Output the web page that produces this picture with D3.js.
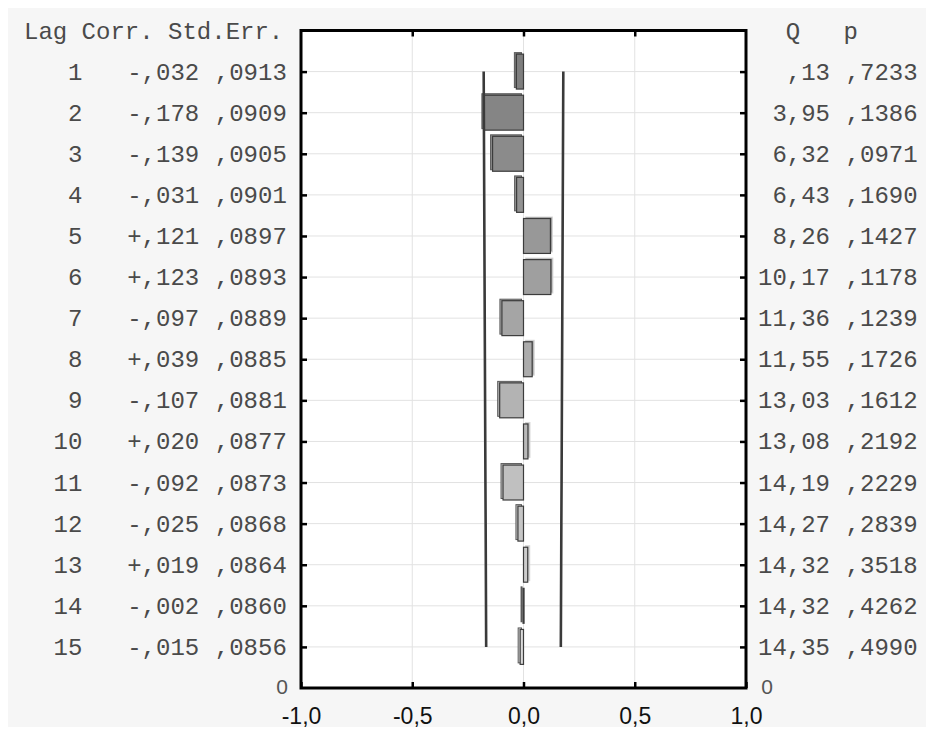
<!DOCTYPE html>
<html>
<head>
<meta charset="utf-8">
<script src="https://cdn.jsdelivr.net/npm/d3@7/dist/d3.min.js"></script>
<style>
  html, body { margin: 0; padding: 0; background: #ffffff; }
  svg { display: block; }
</style>
</head>
<body>
<svg id="chart" width="934" height="735"></svg>
<script>
// Autocorrelation function table and plot
const lags = [1, 2, 3, 4, 5, 6, 7, 8, 9, 10, 11, 12, 13, 14, 15];
const corr = [-0.032, -0.178, -0.139, -0.031, 0.121, 0.123, -0.097, 0.039,
              -0.107, 0.020, -0.092, -0.025, 0.019, -0.002, -0.015];
const stdErr = [0.0913, 0.0909, 0.0905, 0.0901, 0.0897, 0.0893, 0.0889, 0.0885,
                0.0881, 0.0877, 0.0873, 0.0868, 0.0864, 0.0860, 0.0856];
const qStat = [0.13, 3.95, 6.32, 6.43, 8.26, 10.17, 11.36, 11.55,
               13.03, 13.08, 14.19, 14.27, 14.32, 14.32, 14.35];
const pVal = [0.7233, 0.1386, 0.0971, 0.1690, 0.1427, 0.1178, 0.1239, 0.1726,
              0.1612, 0.2192, 0.2229, 0.2839, 0.3518, 0.4262, 0.4990];
const xTicks = [-1, -0.5, 0, 0.5, 1];
const xTickLabels = ["-1,0", "-0,5", "0,0", "0,5", "1,0"];
const yEndLabel = "0";
const leftHeader = "Lag Corr. Std.Err.";
const rightHeader = "  Q   p";

const svg = d3.select("#chart");
const W = 934, H = 735;

const x = d3.scaleLinear().domain([-1, 1]).range([301, 746]);
const y = d3.scaleLinear().domain([0, 16]).range([30.5, 688]);
const step = y(1) - y(0);
const barH = step * 0.85;

const mono = "'Liberation Mono', 'DejaVu Sans Mono', monospace";
const sans = "'Liberation Sans', Arial, sans-serif";
const cw = 14.6;

// Number formats in the decimal-comma style with leading zero dropped
const fmtNoLead = (v, d) => {
  const s = Math.abs(v).toFixed(d).replace(".", ",");
  return s.startsWith("0,") ? s.slice(1) : s;
};
const fmtCorr = v => (v < 0 ? "-" : "+") + fmtNoLead(v, 3);

// Panel background
svg.append("rect").attr("x", 0).attr("y", 0).attr("width", W).attr("height", H).attr("fill", "#ffffff");
svg.append("rect").attr("x", 8).attr("y", 8).attr("width", W - 16).attr("height", H - 16).attr("fill", "#f6f6f6");

// Plot area
svg.append("rect")
  .attr("x", x(-1)).attr("y", y(0))
  .attr("width", x(1) - x(-1)).attr("height", y(16) - y(0))
  .attr("fill", "#ffffff");

// Grid
const grid = svg.append("g").attr("stroke", "#e2e2e2").attr("stroke-width", 1);
grid.selectAll("line.h").data(lags).join("line")
  .attr("class", "h")
  .attr("x1", x(-1)).attr("x2", x(1))
  .attr("y1", d => y(d)).attr("y2", d => y(d));
grid.selectAll("line.v").data([-0.5, 0, 0.5]).join("line")
  .attr("class", "v")
  .attr("x1", d => x(d)).attr("x2", d => x(d))
  .attr("y1", y(0)).attr("y2", y(16));

// Bars with offset shadow
const shade = d3.scaleLinear().domain([1, 15]).range(["#7e7e7e", "#dadada"]);
const rows = lags.map((l, i) => ({ lag: l, r: corr[i], se: stdErr[i] }));
const bars = svg.append("g");
rows.forEach(d => {
  const x0 = Math.min(x(0), x(d.r));
  const w = Math.max(Math.abs(x(d.r) - x(0)), 1);
  const out = d.r < 0 ? -2 : 2;
  bars.append("rect")
    .attr("x", x0 + out)
    .attr("y", y(d.lag) - barH / 2 - 1.5)
    .attr("width", w).attr("height", barH)
    .attr("fill", shade(d.lag))
    .attr("stroke", d.r < 0 ? "#5a5a5a" : "#d6d6d6")
    .attr("stroke-width", 1);
  bars.append("rect")
    .attr("x", x0)
    .attr("y", y(d.lag) - barH / 2)
    .attr("width", w).attr("height", barH)
    .attr("fill", shade(d.lag))
    .attr("stroke", "#3c3c3c")
    .attr("stroke-width", 1.2);
});

// Confidence limits at +/- 1.96 standard errors
const limLine = side => d3.line()
  .x(d => x(side * 1.96 * d.se))
  .y(d => y(d.lag));
[-1, 1].forEach(s => {
  svg.append("path")
    .datum(rows)
    .attr("d", limLine(s))
    .attr("fill", "none")
    .attr("stroke", "#3a3a3a")
    .attr("stroke-width", 2.6);
});

// Axes (inward ticks)
const tickStyle = g => {
  g.select(".domain").remove();
  g.selectAll(".tick line").attr("stroke", "#000").attr("stroke-width", 2.5);
};
svg.append("g").attr("transform", `translate(${x(-1)},0)`)
  .call(d3.axisLeft(y).tickValues(lags).tickSize(-6).tickFormat(""))
  .call(tickStyle);
svg.append("g").attr("transform", `translate(${x(1)},0)`)
  .call(d3.axisRight(y).tickValues(lags).tickSize(-6).tickFormat(""))
  .call(tickStyle);
svg.append("g").attr("transform", `translate(0,${y(0)})`)
  .call(d3.axisTop(x).tickValues([-0.5, 0, 0.5]).tickSize(-6).tickFormat(""))
  .call(tickStyle);
const xAxis = svg.append("g").attr("transform", `translate(0,${y(16)})`)
  .call(d3.axisBottom(x).tickValues(xTicks).tickSize(-6).tickPadding(20)
    .tickFormat((d, i) => xTickLabels[i]))
  .call(tickStyle);
xAxis.selectAll(".tick text")
  .attr("font-family", sans).attr("font-size", 23).attr("fill", "#111");

// Frame
svg.append("rect")
  .attr("x", x(-1)).attr("y", y(0))
  .attr("width", x(1) - x(-1)).attr("height", y(16) - y(0))
  .attr("fill", "none").attr("stroke", "#000").attr("stroke-width", 3);

// End labels of the lag axis
svg.append("text").attr("x", 282).attr("y", y(16) + 6)
  .attr("text-anchor", "middle").attr("font-family", sans).attr("font-size", 21)
  .attr("fill", "#555").text(yEndLabel);
svg.append("text").attr("x", 767).attr("y", y(16) + 6)
  .attr("text-anchor", "middle").attr("font-family", sans).attr("font-size", 21)
  .attr("fill", "#555").text(yEndLabel);

// Statistics tables on both sides of the plot
const lx0 = 24, rx0 = 757;
const tbl = svg.append("g").attr("font-family", mono).attr("font-size", 24).attr("fill", "#4a4a4a");
tbl.append("text").attr("x", lx0).attr("y", y(0) + 8)
  .style("white-space", "pre").text(leftHeader);
tbl.append("text").attr("x", rx0).attr("y", y(0) + 8)
  .style("white-space", "pre").text(rightHeader);

rows.forEach((d, i) => {
  const by = y(d.lag) + 8;
  tbl.append("text").attr("x", lx0 + 4 * cw).attr("y", by).attr("text-anchor", "end").text(String(d.lag));
  tbl.append("text").attr("x", lx0 + 12 * cw).attr("y", by).attr("text-anchor", "end").text(fmtCorr(d.r));
  tbl.append("text").attr("x", lx0 + 18 * cw).attr("y", by).attr("text-anchor", "end").text(fmtNoLead(d.se, 4));
  tbl.append("text").attr("x", rx0 + 5 * cw).attr("y", by).attr("text-anchor", "end").text(fmtNoLead(qStat[i], 2));
  tbl.append("text").attr("x", rx0 + 11 * cw).attr("y", by).attr("text-anchor", "end").text(fmtNoLead(pVal[i], 4));
});
</script>
</body>
</html>
